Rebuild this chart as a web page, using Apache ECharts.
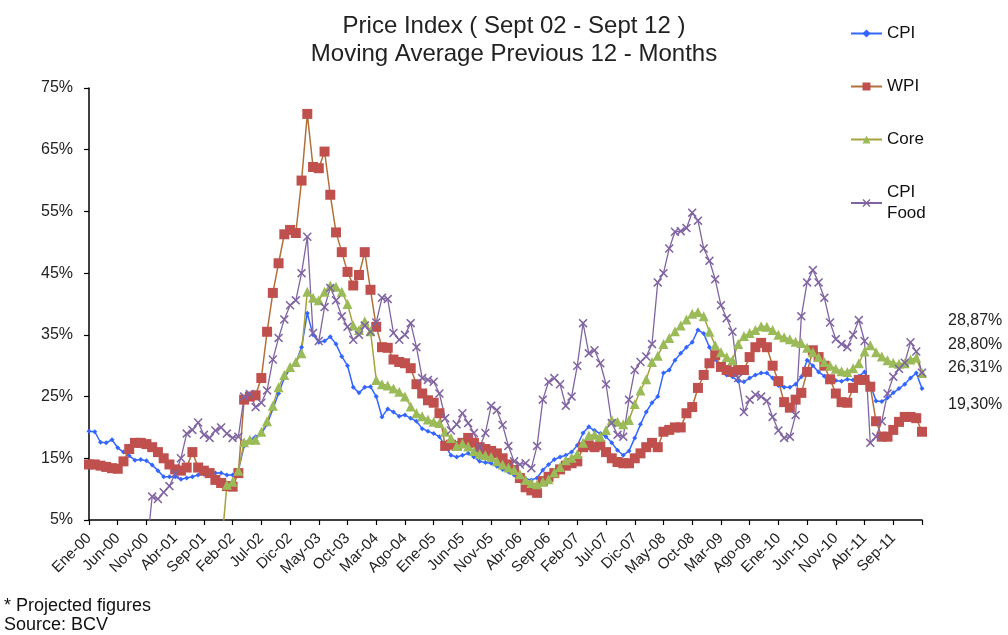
<!DOCTYPE html>
<html>
<head>
<meta charset="utf-8">
<script src="https://cdn.jsdelivr.net/npm/echarts@6/dist/echarts.min.js"></script>
<style>
html,body{margin:0;padding:0;background:#fff;}
#c{width:1008px;height:635px;}
</style>
</head>
<body>
<div id="c"></div>
<script>
// ---- data (monthly, Ene-00 .. Feb-12) ----
const monthAbbr = ['Ene','Feb','Mar','Abr','May','Jun','Jul','Ago','Sep','Oct','Nov','Dic'];
const startYear = 2000;
const nMonths = 146;

const cpi = [19.4,
 19.3,17.6,17.5,18.0,16.7,16.0,15.4,14.7,14.8,14.6,
 13.9,13.0,12.0,12.0,12.0,11.6,11.8,12.0,12.3,12.4,
 12.5,12.6,12.6,12.3,12.3,13.0,17.0,18.0,18.5,19.0,
 20.5,23.0,25.5,28.0,29.5,30.5,33.0,38.5,35.0,33.8,
 34.0,34.7,33.5,31.5,30.0,26.5,25.6,26.5,26.6,25.0,
 21.7,23.0,22.5,21.8,22.0,21.5,21.0,19.8,19.4,19.0,
 18.5,17.0,15.5,15.2,15.5,15.8,15.2,14.5,14.3,14.2,
 13.7,13.2,12.8,12.3,12.0,11.7,11.5,11.8,13.1,14.0,
 14.8,15.2,15.5,16.0,17.1,19.1,20.1,19.5,19.0,18.5,
 17.5,16.3,15.5,16.2,18.3,20.5,22.5,24.0,25.0,28.8,
 29.3,30.9,32.0,33.0,33.8,35.8,35.2,33.0,31.0,29.8,
 28.5,28.2,27.5,27.4,28.0,28.5,28.8,28.8,28.0,26.8,
 26.5,26.5,27.0,28.2,30.9,30.0,29.0,28.3,28.0,27.6,
 27.5,27.8,27.7,28.3,29.0,27.0,24.3,24.2,24.8,25.6,
 26.3,27.0,28.0,28.8,26.31];

const wpi = [14.0,
 14.0,13.8,13.6,13.4,13.3,14.5,16.5,17.5,17.5,17.3,
 16.8,16.0,15.0,14.0,13.2,13.0,13.5,16.0,13.5,13.0,
 12.6,11.5,11.0,10.5,10.4,12.6,24.5,25.0,25.2,28.0,
 35.5,41.8,46.6,51.3,52.0,51.5,60.0,70.8,62.2,62.0,
 64.7,57.7,51.6,48.4,45.2,43.0,44.7,48.4,42.3,36.3,
 33.0,32.9,31.0,30.6,30.4,29.6,27.0,25.5,24.4,24.0,
 22.3,17.0,17.2,17.0,17.5,18.3,17.5,16.8,16.5,16.2,
 15.8,15.0,14.0,13.1,11.8,10.3,9.8,9.4,11.3,12.0,
 12.6,13.2,13.8,14.2,14.5,16.8,17.1,16.8,17.1,16.0,
 15.0,14.4,14.2,14.2,15.0,15.8,16.8,17.5,16.8,19.3,
 19.6,20.0,20.0,22.3,23.3,26.4,28.5,30.4,31.7,29.8,
 29.3,29.0,29.3,29.3,31.4,33.0,33.7,33.0,30.0,27.5,
 24.1,23.2,24.5,25.6,29.0,32.5,31.4,30.0,27.8,25.5,
 24.1,24.0,26.4,27.7,27.7,26.6,21.0,18.5,18.5,19.6,
 20.9,21.7,21.7,21.5,19.30];

const core = [
 null,null,null,null,null,null,null,null,null,null,
 null,null,null,null,null,null,null,null,null,null,
 null,null,null,0,
 10.7,11.2,13.0,17.6,18.0,18.0,19.3,
 21.0,23.5,26.5,28.5,29.8,30.6,32.0,42.0,41.0,40.6,
 42.0,43.0,42.8,42.0,40.0,36.5,35.8,37.2,35.6,27.7,
 27.0,26.8,26.3,25.8,25.0,23.4,22.3,21.8,21.3,20.9,
 20.7,19.3,18.3,17.0,17.4,16.9,16.2,15.7,15.5,15.2,
 14.5,14.0,13.5,13.1,12.4,11.5,11.0,10.8,11.2,11.6,
 12.7,13.6,14.7,15.1,15.7,17.5,18.7,18.8,18.5,19.6,
 21.2,20.9,20.5,21.2,23.8,26.0,27.8,30.6,31.6,33.5,
 34.5,35.6,36.5,37.5,38.4,38.7,38.0,35.5,33.3,32.2,
 31.4,30.9,33.5,34.8,35.3,35.8,36.4,36.3,35.8,35.0,
 34.6,34.3,33.9,33.7,32.9,32.2,31.4,30.6,30.0,29.5,
 29.1,29.0,29.6,30.4,32.3,33.3,32.2,31.5,30.9,30.5,
 30.3,30.4,31.0,31.3,28.80];

const cpiFood = [
 null,null,null,null,null,null,null,null,null,null,
 0,8.8,8.4,9.5,10.5,12.5,15.0,19.0,19.6,20.8,
 18.8,18.3,19.5,20.0,19.0,18.3,18.5,25.0,25.4,23.3,
 24.0,26.0,31.0,34.5,37.5,39.8,40.6,45.0,50.9,35.3,
 34.0,39.5,42.6,40.6,38.0,36.3,34.2,35.0,36.5,35.5,
 37.0,41.0,40.8,35.3,34.2,35.0,36.9,33.0,28.0,27.7,
 27.4,25.5,21.5,19.5,20.5,22.3,20.7,19.1,16.8,19.1,
 23.5,22.8,20.4,17.0,14.5,14.0,14.2,13.4,17.0,24.5,
 27.4,28.0,27.0,23.5,25.0,30.0,36.9,32.0,32.5,30.4,
 27.0,20.7,18.8,18.5,24.5,29.3,30.6,31.5,33.5,43.5,
 45.0,49.0,51.7,51.8,52.3,54.8,53.5,49.0,47.0,44.0,
 39.8,37.7,35.5,28.0,22.5,24.5,25.3,25.0,24.3,21.7,
 19.5,18.3,18.5,22.0,38.0,43.5,45.5,43.5,41.0,37.0,
 34.3,33.5,33.0,35.0,37.4,34.0,17.5,18.5,21.0,25.5,
 28.2,29.5,30.5,33.8,32.3,28.87];

const yTicks = [5,15,25,35,45,55,65,75];
const endLabels = ['28,87%','28,80%','26,31%','19,30%'];
const titleLines = ['Price Index ( Sept 02 - Sept 12 )','Moving Average Previous 12 - Months'];
const footLines = ['* Projected figures','Source: BCV'];

// ---- build ----
const categories = [];
for (let i = 0; i < nMonths; i++) {
  const m = i % 12, y = startYear + Math.floor(i / 12);
  categories.push(monthAbbr[m] + '-' + String(y % 100).padStart(2, '0'));
}

const FONT = '"Liberation Sans", Arial, sans-serif';
const xMark = 'path://M0,1.2 L1.2,0 L5,3.8 L8.8,0 L10,1.2 L6.2,5 L10,8.8 L8.8,10 L5,6.2 L1.2,10 L0,8.8 L3.8,5 Z';

const chart = echarts.init(document.getElementById('c'), null, {renderer: 'canvas'});
chart.setOption({
  animation: false,
  backgroundColor: '#ffffff',
  textStyle: {fontFamily: FONT},
  title: {
    text: titleLines.join('\n'),
    left: 509, top: 7, textAlign: 'center',
    textStyle: {fontFamily: FONT, fontSize: 24, fontWeight: 'normal', color: '#222', lineHeight: 28}
  },
  legend: {
    orient: 'vertical', left: 845, top: 18,
    itemWidth: 31, itemHeight: 10, itemGap: 32,
    textStyle: {fontFamily: FONT, fontSize: 17, color: '#111', lineHeight: 21},
    formatter: n => n === 'CPI Food' ? 'CPI\nFood' : n,
    data: ['CPI','WPI','Core','CPI Food']
  },
  grid: {left: 89, right: 86, top: 88, bottom: 115, containLabel: false},
  xAxis: {
    type: 'category', data: categories, boundaryGap: false,
    axisLine: {lineStyle: {color: '#000', width: 1.5}},
    axisTick: {interval: i => i % 5 === 0, length: 5, lineStyle: {color: '#000', width: 1.2}},
    axisLabel: {interval: i => i % 5 === 0 && i < nMonths - 1, rotate: 45, fontSize: 15, color: '#222', fontFamily: FONT, margin: 16},
    splitLine: {show: false}
  },
  yAxis: {
    type: 'value', min: yTicks[0], max: yTicks[yTicks.length - 1],
    axisLine: {show: true, lineStyle: {color: '#000', width: 1.5}},
    axisTick: {show: true, customValues: yTicks, length: 5, lineStyle: {color: '#000', width: 1.2}},
    axisLabel: {customValues: yTicks, formatter: '{value}%', fontSize: 16, color: '#222', fontFamily: FONT, margin: 16},
    splitLine: {show: false}
  },
  series: [
    {name: 'CPI', type: 'line', data: cpi, symbol: 'diamond', symbolSize: 5, showAllSymbol: true,
     itemStyle: {color: '#3366FF'}, lineStyle: {color: '#3366FF', width: 1.5}},
    {name: 'WPI', type: 'line', data: wpi, symbol: 'rect', symbolSize: 10, showAllSymbol: true,
     itemStyle: {color: '#C0504D'}, lineStyle: {color: '#B0703A', width: 1.5}},
    {name: 'Core', type: 'line', data: core, symbol: 'triangle', symbolSize: 10, showAllSymbol: true,
     itemStyle: {color: '#9BBB59'}, lineStyle: {color: '#A6A23C', width: 1.5}},
    {name: 'CPI Food', type: 'line', data: cpiFood, symbol: xMark, symbolSize: 9, showAllSymbol: true,
     itemStyle: {color: '#8064A2'}, lineStyle: {color: '#8064A2', width: 1.3}}
  ],
  graphic: [
    ...endLabels.map((t, k) => ({
      type: 'text', left: 948, top: [313, 337, 360, 397][k],
      style: {text: t, fontFamily: FONT, fontSize: 16, fill: '#222'}
    })),
    ...footLines.map((t, k) => ({
      type: 'text', left: 4, top: 597 + k * 19,
      style: {text: t, fontFamily: FONT, fontSize: 18, fill: '#111'}
    }))
  ]
});
</script>
</body>
</html>
